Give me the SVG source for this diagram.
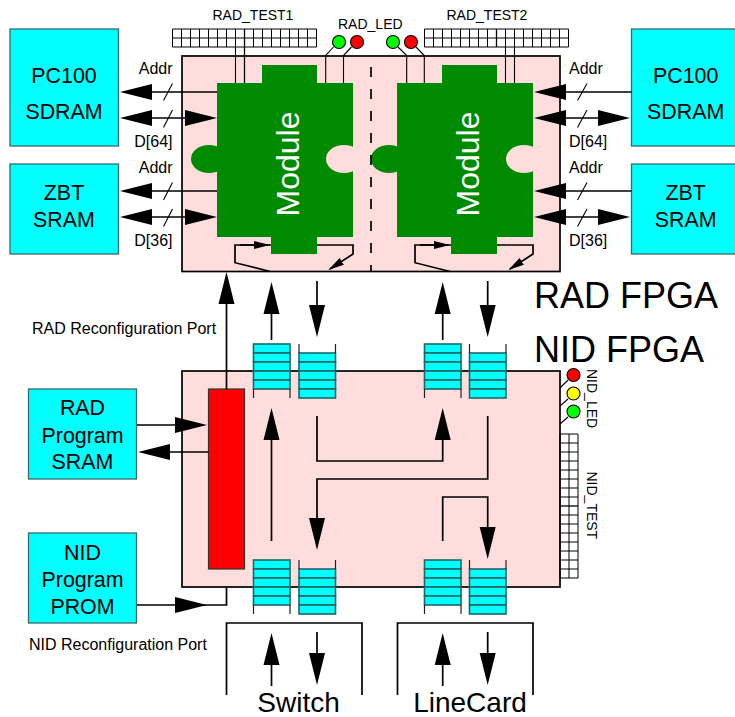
<svg xmlns="http://www.w3.org/2000/svg" width="735" height="717" viewBox="0 0 735 717">
<style>
text{font-family:"Liberation Sans",Arial,sans-serif;fill:#000}
.fpga{fill:#ffdddd;stroke:#000;stroke-width:1.7}
.mem{fill:#00ffff;stroke:#3a6a6a;stroke-width:1.3}
.t21{font-size:21.4px;text-anchor:middle}
.t16{font-size:16px}
.t14{font-size:14px}
.t28{font-size:28px;text-anchor:middle}
.t37{font-size:36px}
.mod{fill:#008a00}
.notch{fill:#ffdddd}
.modt{fill:#fff;font-size:32px;text-anchor:middle}
.w{fill:none;stroke:#000;stroke-width:1.7}
.thin{fill:none;stroke:#000;stroke-width:1.1}
.grid{fill:none;stroke:#000;stroke-width:1}
.led{stroke:#000;stroke-width:1.1}
.cell{fill:#00ffff;stroke:#1f6666;stroke-width:1.6}
.tick{fill:none;stroke:#222;stroke-width:1.2}
</style>
<defs>
<marker id="big" markerUnits="userSpaceOnUse" markerWidth="36" markerHeight="20" refX="26" refY="10" orient="auto"><path d="M0,2 L32,10 L0,18 Z" fill="#000"/></marker>
<marker id="small" markerUnits="userSpaceOnUse" markerWidth="20" markerHeight="12" refX="14" refY="6" orient="auto"><path d="M0,2 L16,6 L0,10 Z" fill="#000"/></marker>
<g id="fifo-cells">
<rect class="cell" x="0" y="0" width="36.5" height="9"/><rect class="cell" x="0" y="9" width="36.5" height="9"/><rect class="cell" x="0" y="18" width="36.5" height="9"/><rect class="cell" x="0" y="27" width="36.5" height="9"/><rect class="cell" x="0" y="36" width="36.5" height="9"/>
</g>
</defs>

<g id="rad-fpga"><rect class="fpga" x="182" y="56" width="378" height="215.5"/></g>
<g id="nid-fpga"><rect class="fpga" x="182" y="371" width="378" height="216"/></g>

<g id="module-1">
<path class="mod" d="M217,83H262V65H317V83H353V237H317V254H271V237H217Z"/>
<ellipse class="mod" cx="209" cy="159" rx="18" ry="14"/>
<ellipse class="notch" cx="344" cy="159" rx="18" ry="14"/>
<rect class="notch" x="353" y="140" width="10" height="40"/>
<text class="modt" transform="translate(299 164) rotate(-90)">Module</text>
</g>
<g id="module-2">
<path class="mod" d="M397,83H442V65H497V83H533V237H497V254H451V237H397Z"/>
<ellipse class="mod" cx="389" cy="159" rx="18" ry="14"/>
<ellipse class="notch" cx="524" cy="159" rx="18" ry="14"/>
<rect class="notch" x="533" y="140" width="10" height="40"/>
<text class="modt" transform="translate(479 164) rotate(-90)">Module</text>
</g>

<g id="pc100-left"><rect class="mem" x="10" y="29" width="108.5" height="117"/><text class="t21" x="64" y="83">PC100</text><text class="t21" x="64" y="119">SDRAM</text></g>
<g id="zbt-left"><rect class="mem" x="10" y="164" width="108.5" height="90"/><text class="t21" x="64" y="200">ZBT</text><text class="t21" x="64" y="227">SRAM</text></g>
<g id="pc100-right"><rect class="mem" x="631.5" y="29" width="110" height="117"/><text class="t21" x="685.7" y="83">PC100</text><text class="t21" x="685.7" y="119">SDRAM</text></g>
<g id="zbt-right"><rect class="mem" x="631.5" y="164" width="110" height="90"/><text class="t21" x="685.7" y="200">ZBT</text><text class="t21" x="685.7" y="227">SRAM</text></g>
<g id="rad-prog"><rect class="mem" x="28.5" y="389" width="108" height="90"/><text class="t21" x="82.5" y="415">RAD</text><text class="t21" x="82.5" y="443">Program</text><text class="t21" x="82.5" y="469">SRAM</text></g>
<g id="nid-prog"><rect class="mem" x="28.5" y="533" width="108" height="90"/><text class="t21" x="82.5" y="560">NID</text><text class="t21" x="82.5" y="587">Program</text><text class="t21" x="82.5" y="614">PROM</text></g>
<g id="config-block"><rect x="208.5" y="389" width="36" height="180" fill="#ff0000" stroke="#333" stroke-width="1.2"/></g>

<g id="rad-test1"><path class="grid" d="M172.5,29H316.5V47H172.5ZM172.5,38H316.5M181.5,29V47M190.5,29V47M199.5,29V47M208.5,29V47M217.5,29V47M226.5,29V47M235.5,29V47M253.5,29V47M262.5,29V47M271.5,29V47M280.5,29V47M289.5,29V47M298.5,29V47M307.5,29V47"/><text class="t14" x="212.5" y="20">RAD_TEST1</text></g>
<g id="rad-test2"><path class="grid" d="M424.5,29H568.5V47H424.5ZM424.5,38H568.5M433.5,29V47M442.5,29V47M451.5,29V47M460.5,29V47M469.5,29V47M478.5,29V47M487.5,29V47M505.5,29V47M514.5,29V47M523.5,29V47M532.5,29V47M541.5,29V47M550.5,29V47M559.5,29V47"/><text class="t14" x="446.5" y="20">RAD_TEST2</text></g>
<g id="nid-test"><path class="grid" d="M560,434H578V578H560ZM569,434V578M560,443H578M560,452H578M560,461H578M560,470H578M560,479H578M560,488H578M560,497H578M560,515H578M560,524H578M560,533H578M560,542H578M560,551H578M560,560H578M560,569H578"/><text class="t14" transform="translate(586.5 471.5) rotate(90)">NID_TEST</text></g>
<g id="rad-led"><circle class="led" cx="339" cy="42" r="6.5" fill="#00ff00"/><circle class="led" cx="357" cy="42" r="6.5" fill="#ff0000"/><circle class="led" cx="393" cy="42" r="6.5" fill="#00ff00"/><circle class="led" cx="411" cy="42" r="6.5" fill="#ff0000"/><text class="t14" x="338" y="29">RAD_LED</text></g>
<g id="nid-led"><circle class="led" cx="573.5" cy="375" r="6.5" fill="#ff0000"/><circle class="led" cx="573.5" cy="393.5" r="6.5" fill="#ffff00"/><circle class="led" cx="573.5" cy="411.5" r="6.5" fill="#00ff00"/><text class="t14" transform="translate(586.5 369) rotate(90)">NID_LED</text></g>

<g id="fifos">
<use href="#fifo-cells" x="253.5" y="344"/><path class="tick" d="M253.5,389V398M290,389V398"/>
<use href="#fifo-cells" x="299" y="353"/><path class="tick" d="M299,353V344M335.5,353V344"/>
<use href="#fifo-cells" x="424.5" y="344"/><path class="tick" d="M424.5,389V398M461,389V398"/>
<use href="#fifo-cells" x="469.5" y="353"/><path class="tick" d="M469.5,353V344M506,353V344"/>
<use href="#fifo-cells" x="253.5" y="560"/><path class="tick" d="M253.5,605V614M290,605V614"/>
<use href="#fifo-cells" x="299" y="569"/><path class="tick" d="M299,569V560M335.5,569V560"/>
<use href="#fifo-cells" x="424.5" y="560"/><path class="tick" d="M424.5,605V614M461,605V614"/>
<use href="#fifo-cells" x="469.5" y="569"/><path class="tick" d="M469.5,569V560M506,569V560"/>
</g>

<g id="switch"><path class="w" d="M226.5,695V623H362V695"/><text class="t28" x="298.5" y="712">Switch</text></g>
<g id="linecard"><path class="w" d="M397.5,695V623H533V695"/><text class="t28" x="470" y="712">LineCard</text></g>

<g id="connectors">
<path class="w" d="M371,67V271" stroke-dasharray="10 12"/>
<path class="thin" d="M235.5,47V83M505.5,47V83M514.5,47V83"/>
<path class="w" d="M244.5,29V83M496.5,29V47" style="stroke-width:1.3"/>
<path class="thin" d="M333.5,47L325.7,55.5V83M351.5,47L343.5,55.5V83M398,47L406.7,55.5V83M416,47L424.3,55.5V83"/>
<path class="thin" d="M560,388L568,380M560,406L568,399M560,424L568,417"/>
<path class="w" d="M560,506H578" style="stroke-width:1.3"/>

<path class="w" d="M217,92H126" marker-end="url(#big)"/>
<path class="w" d="M152,118H126" marker-end="url(#big)"/><path class="w" d="M150,118H211" marker-end="url(#big)"/>
<path class="w" d="M217,191H126" marker-end="url(#big)"/>
<path class="w" d="M152,217H126" marker-end="url(#big)"/><path class="w" d="M150,217H211" marker-end="url(#big)"/>
<path class="w" d="M631.5,92H540" marker-end="url(#big)"/>
<path class="w" d="M566,118H540" marker-end="url(#big)"/><path class="w" d="M564,118H624" marker-end="url(#big)"/>
<path class="w" d="M631.5,191H540" marker-end="url(#big)"/>
<path class="w" d="M566,217H540" marker-end="url(#big)"/><path class="w" d="M564,217H624" marker-end="url(#big)"/>
<path class="thin" d="M163.5,100.5L172.5,83.5M163.5,127.5L172.5,110M163.5,200L172.5,182.5M163.5,226.5L172.5,209M577.5,100.5L587,83.5M577.5,127.5L587,110M577.5,200L587,182.5M577.5,226.5L587,209"/>

<path class="w" d="M271,245H235V262.7L270,271.5"/><path class="w" d="M240,245H268" marker-end="url(#small)"/>
<path class="w" d="M317,245H353V254L330,269" marker-end="url(#small)"/>
<path class="w" d="M451,245H415V262.7L450,271.5"/><path class="w" d="M420,245H448" marker-end="url(#small)"/>
<path class="w" d="M497,245H533V254L510,269" marker-end="url(#small)"/>

<path class="w" d="M226.5,389V278" marker-end="url(#big)"/>
<path class="w" d="M271.5,340V288" marker-end="url(#big)"/>
<path class="w" d="M317,281V331" marker-end="url(#big)"/>
<path class="w" d="M442.7,340V288" marker-end="url(#big)"/>
<path class="w" d="M487.7,281V331" marker-end="url(#big)"/>

<path class="w" d="M137,425H201" marker-end="url(#big)"/>
<path class="w" d="M208.5,452H144" marker-end="url(#big)"/>
<path class="w" d="M137,605H201" marker-end="url(#big)"/>
<path class="w" d="M190,605H226.5V587"/>

<path class="w" d="M271.5,541V414" marker-end="url(#big)"/>
<path class="w" d="M317,416V461H442.7V414" marker-end="url(#big)"/>
<path class="w" d="M487.7,416V479H317V544" marker-end="url(#big)"/>
<path class="w" d="M442.7,541V497H487.7V553" marker-end="url(#big)"/>

<path class="w" d="M271.5,686V639" marker-end="url(#big)"/>
<path class="w" d="M317,632V679" marker-end="url(#big)"/>
<path class="w" d="M442.7,686V639" marker-end="url(#big)"/>
<path class="w" d="M487.7,632V679" marker-end="url(#big)"/>
</g>

<g id="labels">
<text class="t16" x="172.5" y="74" text-anchor="end">Addr</text>
<text class="t16" x="172.5" y="147" text-anchor="end">D[64]</text>
<text class="t16" x="172.5" y="173" text-anchor="end">Addr</text>
<text class="t16" x="172.5" y="246" text-anchor="end">D[36]</text>
<text class="t16" x="569" y="74">Addr</text>
<text class="t16" x="569" y="147">D[64]</text>
<text class="t16" x="569" y="173">Addr</text>
<text class="t16" x="569" y="246">D[36]</text>
<text class="t16" x="32" y="334">RAD Reconfiguration Port</text>
<text class="t16" x="29" y="650">NID Reconfiguration Port</text>
<text class="t37" x="534" y="308">RAD FPGA</text>
<text class="t37" x="534" y="362">NID FPGA</text>
</g>
</svg>
